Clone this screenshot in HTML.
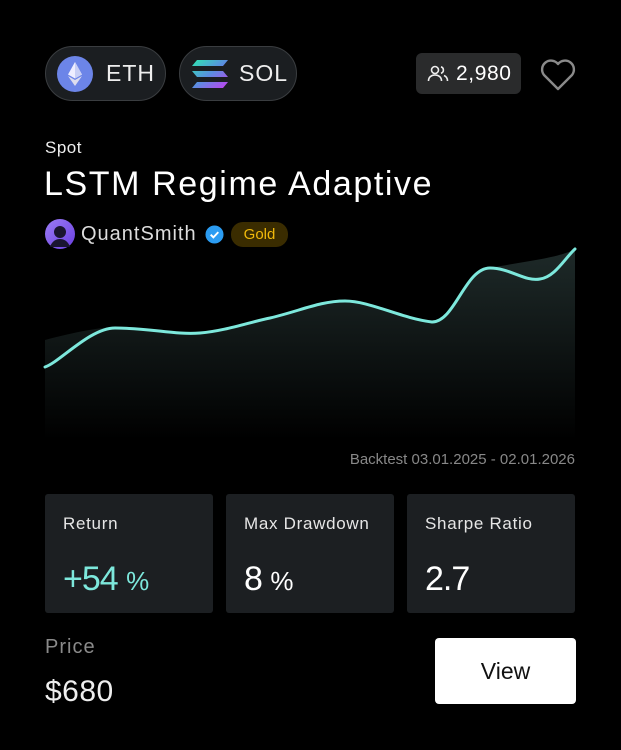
<!DOCTYPE html>
<html><head><style>
*{margin:0;padding:0;box-sizing:border-box}
body{width:621px;height:750px;background:#000;font-family:"Liberation Sans",sans-serif;color:#fff;position:relative;overflow:hidden}
.a{position:absolute}
.pill{position:absolute;top:46px;height:55px;border-radius:28px;background:#1b1e21;border:1.5px solid #3a3d40;display:flex;align-items:center;font-size:23px;color:#eee}
.box{position:absolute;top:494px;width:168px;height:119px;background:#1c1f22;border-radius:3px}
.lbl{position:absolute;left:18px;top:20px;font-size:17px;color:#e6e6e6;letter-spacing:0.7px}
.val{position:absolute;left:18px;top:66px;font-size:34px;letter-spacing:-1px}
.val span{font-size:26px;letter-spacing:0}
</style></head><body>
<div class="pill" style="left:45px;width:121px">
 <svg style="margin-left:11px" width="36" height="36" viewBox="0 0 36 36"><circle cx="18" cy="18" r="18" fill="#6c85e8"/><path d="M18 6 L25 18.5 L18 22.5 L11 18.5Z" fill="#eef"/><path d="M18 24 L25 20 L18 30 L11 20Z" fill="#dde"/><path d="M18 6 L25 18.5 L18 22.5Z" fill="#c8cff5"/></svg>
 <span style="margin-left:13px;letter-spacing:1px">ETH</span></div>
<div class="pill" style="left:179px;width:118px">
 <svg style="margin-left:11px" width="38" height="32" viewBox="0 0 38 32"><defs><linearGradient id="s" x1="0" y1="0" x2="1" y2="1"><stop offset="0" stop-color="#2ee6b0"/><stop offset="0.5" stop-color="#5a8ee0"/><stop offset="1" stop-color="#c43ef0"/></linearGradient></defs><path d="M6 2H37L32 8H1Z M1 13H32L37 19H6Z M6 24H37L32 30H1Z" fill="url(#s)"/></svg>
 <span style="margin-left:10px;letter-spacing:1px">SOL</span></div>
<div class="a" style="left:416px;top:53px;width:105px;height:41px;background:#2a2b2c;border-radius:6px;display:flex;align-items:center;font-size:21px">
 <svg style="margin-left:11px" width="22" height="20" viewBox="0 0 22 20" fill="none" stroke="#eee" stroke-width="1.6"><circle cx="8" cy="6" r="3.5"/><path d="M1.5 17c0-4 3-6 6.5-6s6.5 2 6.5 6"/><path d="M14 2.8a3.4 3.4 0 010 6.5M17 11.5c2 .8 3.5 2.5 3.5 5.5"/></svg>
 <span style="margin-left:7px;letter-spacing:0.6px">2,980</span></div>
<svg class="a" style="left:540px;top:58px" width="36" height="34" viewBox="0 0 36 34"><path d="M18 31 L4 17 A8.5 8.5 0 0 1 18 6 A8.5 8.5 0 0 1 32 17Z" fill="none" stroke="#8a8a8a" stroke-width="2.4" stroke-linejoin="round"/></svg>
<div class="a" style="left:45px;top:138px;font-size:17px;color:#eee;letter-spacing:0.5px">Spot</div>
<div class="a" style="left:44px;top:165px;font-size:34px;color:#fff;letter-spacing:1.6px">LSTM Regime Adaptive</div>
<svg class="a" style="left:45px;top:219px" width="30" height="30" viewBox="0 0 30 30"><defs><linearGradient id="av" x1="0" y1="0" x2="1" y2="1"><stop offset="0" stop-color="#9b7cf5"/><stop offset="1" stop-color="#6a3fe0"/></linearGradient></defs><circle cx="15" cy="15" r="15" fill="url(#av)"/><circle cx="15" cy="13" r="6" fill="#1a1530"/><path d="M5 28c2-6 6-8 10-8s8 2 10 8" fill="#1a1530"/></svg>
<div class="a" style="left:81px;top:223px;font-size:20px;color:#ddd;letter-spacing:1px">QuantSmith</div>
<svg class="a" style="left:205px;top:225px" width="19" height="19" viewBox="0 0 20 20"><circle cx="10" cy="10" r="9.5" fill="#2b9cf2"/><path d="M6 10.2l2.8 2.8 5.2-5.5" stroke="#fff" stroke-width="2" fill="none"/></svg>
<div class="a" style="left:231px;top:222px;width:57px;height:25px;border-radius:12px;background:#3a2c00;color:#f0b90b;font-size:15px;text-align:center;line-height:25px">Gold</div>
<svg class="a" style="left:0;top:0" width="621" height="470">
<defs><linearGradient id="f" x1="0" y1="0" x2="0" y2="1"><stop offset="0" stop-color="#1e2a29"/><stop offset="1" stop-color="#000"/></linearGradient></defs>
<path d="M45 340 C75 332 100 327 120 327 C150 327 180 333 200 333 C230 333 250 322 270 318 C300 310 320 301 345 301 C370 301 400 318 432 322 C450 322 470 268 490 268 C520 262 560 258 575 249 L575 440 L45 440Z" fill="url(#f)"/>
<path d="M45 367 C60 362 90 328 115 328 C150 328 175 335 200 333 C225 331 250 322 270 318 C300 311 320 301 345 301 C370 301 400 318 432 322 C455 322 465 268 490 268 C510 268 525 282 540 279 C555 277 565 258 575 249" fill="none" stroke="#7de8dc" stroke-width="3" stroke-linecap="round"/>
</svg>
<div class="a" style="right:46px;top:451px;font-size:15px;color:#888">Backtest 03.01.2025 - 02.01.2026</div>
<div class="box" style="left:45px"><div class="lbl">Return</div><div class="val" style="color:#7de8dc">+54 <span>%</span></div></div>
<div class="box" style="left:226px"><div class="lbl">Max Drawdown</div><div class="val">8 <span>%</span></div></div>
<div class="box" style="left:407px"><div class="lbl">Sharpe Ratio</div><div class="val">2.7</div></div>
<div class="a" style="left:45px;top:636px;font-size:20px;color:#8a8a8a;letter-spacing:1px">Price</div>
<div class="a" style="left:45px;top:675px;font-size:30px;color:#eee;letter-spacing:0.5px">$680</div>
<div class="a" style="left:435px;top:638px;width:141px;height:66px;background:#fff;border-radius:4px;color:#111;font-size:23px;text-align:center;line-height:66px">View</div>
</body></html>
